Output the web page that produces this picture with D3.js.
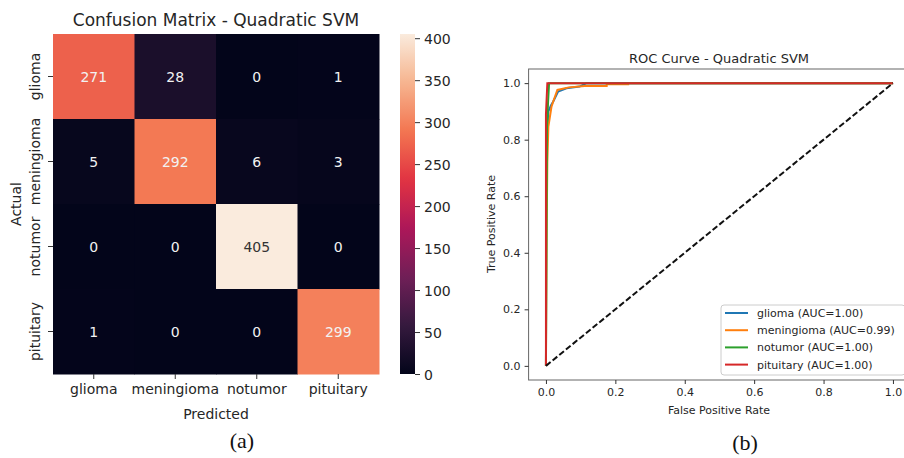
<!DOCTYPE html>
<html>
<head>
<meta charset="utf-8">
<script src="https://cdn.jsdelivr.net/npm/d3@7"></script>
<style>
    html, body { margin: 0; padding: 0; background: #fff; }
    svg { display: block; font-family: "DejaVu Sans", sans-serif; }
</style>
</head>
<body>
<svg id="chart" width="904" height="458"></svg>
<script>
// ---- data ----
const classes = ['glioma', 'meningioma', 'notumor', 'pituitary'];
const confusion = [
    [271, 28, 0, 1],
    [5, 292, 6, 3],
    [0, 0, 405, 0],
    [1, 0, 0, 299]
];
const colorbarTicks = [0, 50, 100, 150, 200, 250, 300, 350, 400];

// ROC points
const gliomaFpr = [0, 0.001, 0.003, 0.007, 0.014, 0.021, 0.035, 0.059, 0.097, 0.117, 1];
const gliomaTpr = [0, 0.55, 0.80, 0.90, 0.92, 0.935, 0.97, 0.982, 0.988, 1.0, 1.0];
const meningiomaFpr = [0, 0.002, 0.004, 0.007, 0.016, 0.021, 0.033, 0.066, 0.112, 0.175, 0.175, 0.237, 0.237, 1];
const meningiomaTpr = [0, 0.48, 0.72, 0.846, 0.917, 0.935, 0.976, 0.985, 0.99, 0.99, 0.996, 0.996, 1.0, 1.0];
const notumorFpr = [0, 0.003, 0.006, 0.009, 1];
const notumorTpr = [0, 0.84, 0.93, 1.0, 1.0];
const pituitaryFpr = [0, 0, 0.004, 1];
const pituitaryTpr = [0, 0.89, 1.0, 1.0];
const aucLabels = ['1.00', '0.99', '1.00', '1.00'];
const rocTicks = [0, 0.2, 0.4, 0.6, 0.8, 1.0];

const textColor = '#262626';
const svg = d3.select('#chart');

// seaborn "rocket" colormap, approximated by stops
const rocketStops = [0, 1/7, 2/7, 3/7, 4/7, 5/7, 6/7, 1];
const rocketColors = ['#03051a', '#35193e', '#701f57', '#ad1759', '#e13342', '#f37651', '#f6b48f', '#faebdd'];

function styleAxis(g, size) {
    g.select('.domain').remove();
    g.selectAll('.tick line').attr('stroke', '#333').attr('stroke-width', 1);
    g.selectAll('.tick text').attr('fill', textColor).attr('font-size', size + 'px')
        .attr('font-family', '"DejaVu Sans", sans-serif');
}

// ================= (a) confusion matrix =================
const vmax = d3.max(confusion.flat());
const color = d3.scaleLinear()
    .domain(rocketStops.map(s => s * vmax))
    .range(rocketColors)
    .interpolate(d3.interpolateRgb);

const hx = d3.scaleBand().domain(classes).range([53, 379]);
const hy = d3.scaleBand().domain(classes).range([34, 374]);

const cells = [];
confusion.forEach((row, i) => row.forEach((v, j) => cells.push({ actual: classes[i], pred: classes[j], v })));

const heat = svg.append('g');
heat.selectAll('rect')
    .data(cells)
    .enter()
    .append('rect')
    .attr('x', d => hx(d.pred))
    .attr('y', d => hy(d.actual))
    .attr('width', hx.bandwidth() + 0.5)
    .attr('height', hy.bandwidth() + 0.5)
    .attr('fill', d => color(d.v));

heat.selectAll('text')
    .data(cells)
    .enter()
    .append('text')
    .attr('x', d => hx(d.pred) + hx.bandwidth() / 2)
    .attr('y', d => hy(d.actual) + hy.bandwidth() / 2 + 5)
    .attr('text-anchor', 'middle')
    .attr('font-size', '14px')
    .attr('fill', d => {
        const c = d3.rgb(color(d.v));
        const lum = (0.2126 * Math.pow(c.r / 255, 2.2) + 0.7152 * Math.pow(c.g / 255, 2.2) + 0.0722 * Math.pow(c.b / 255, 2.2));
        return lum > 0.408 ? '#333' : '#f2f2f2';
    })
    .text(d => d.v);

// axes
svg.append('g')
    .attr('transform', 'translate(0,374)')
    .call(d3.axisBottom(hx).tickSize(5).tickPadding(5))
    .call(g => styleAxis(g, 14));

svg.append('g')
    .attr('transform', 'translate(53,0)')
    .call(d3.axisLeft(hy).tickSize(5))
    .call(g => styleAxis(g, 14))
    .call(g => g.selectAll('.tick text')
        .attr('transform', 'rotate(-90)')
        .attr('x', 0).attr('y', -13).attr('dy', 0)
        .attr('text-anchor', 'middle'));

svg.append('text')
    .attr('x', 216).attr('y', 26)
    .attr('text-anchor', 'middle').attr('font-size', '17px').attr('fill', textColor)
    .text('Confusion Matrix - Quadratic SVM');

svg.append('text')
    .attr('x', 216).attr('y', 419)
    .attr('text-anchor', 'middle').attr('font-size', '14px').attr('fill', textColor)
    .text('Predicted');

svg.append('text')
    .attr('transform', 'translate(20.5,204) rotate(-90)')
    .attr('text-anchor', 'middle').attr('font-size', '14px').attr('fill', textColor)
    .text('Actual');

// colorbar
const cy = d3.scaleLinear().domain([0, vmax]).range([374, 34]);
const grad = svg.append('defs').append('linearGradient')
    .attr('id', 'rocket').attr('x1', 0).attr('y1', 1).attr('x2', 0).attr('y2', 0);
grad.selectAll('stop')
    .data(d3.range(0, 1.0001, 0.02))
    .enter()
    .append('stop')
    .attr('offset', d => d)
    .attr('stop-color', d => color(d * vmax));

svg.append('rect')
    .attr('x', 400).attr('y', cy(vmax))
    .attr('width', 15).attr('height', cy(0) - cy(vmax))
    .attr('fill', 'url(#rocket)');

svg.append('g')
    .attr('transform', 'translate(415,0)')
    .call(d3.axisRight(cy).tickValues(colorbarTicks).tickSize(5).tickPadding(4))
    .call(g => styleAxis(g, 14))
    .call(g => g.selectAll('.tick text').attr('dy', '0.36em'));

// ================= (b) ROC curves =================
const rx = d3.scaleLinear().domain([-0.05, 1.05]).range([528.6, 910.3]);
const ry = d3.scaleLinear().domain([-0.05, 1.05]).range([380, 69]);

const rocColors = ['#1f77b4', '#ff7f0e', '#2ca02c', '#d62728'];
const rocSeries = [
    { name: classes[0], fpr: gliomaFpr, tpr: gliomaTpr },
    { name: classes[1], fpr: meningiomaFpr, tpr: meningiomaTpr },
    { name: classes[2], fpr: notumorFpr, tpr: notumorTpr },
    { name: classes[3], fpr: pituitaryFpr, tpr: pituitaryTpr }
];

const line = d3.line().x(d => rx(d[0])).y(d => ry(d[1]));

svg.append('g')
    .selectAll('path')
    .data(rocSeries)
    .enter()
    .append('path')
    .attr('d', d => line(d3.zip(d.fpr, d.tpr)))
    .attr('fill', 'none')
    .attr('stroke', (d, i) => rocColors[i])
    .attr('stroke-width', 2);

// chance line
svg.append('path')
    .attr('d', line([[0, 0], [1, 1]]))
    .attr('fill', 'none')
    .attr('stroke', '#111')
    .attr('stroke-width', 2)
    .attr('stroke-dasharray', '6,2.6');

// frame
svg.append('rect')
    .attr('x', rx(-0.05)).attr('y', ry(1.05))
    .attr('width', rx(1.05) - rx(-0.05)).attr('height', ry(-0.05) - ry(1.05))
    .attr('fill', 'none').attr('stroke', '#666').attr('stroke-width', 1);

svg.append('g')
    .attr('transform', `translate(0,${ry(-0.05)})`)
    .call(d3.axisBottom(rx).tickValues(rocTicks).tickFormat(d3.format('.1f')).tickSize(4).tickPadding(4))
    .call(g => styleAxis(g, 11));

svg.append('g')
    .attr('transform', `translate(${rx(-0.05)},0)`)
    .call(d3.axisLeft(ry).tickValues(rocTicks).tickFormat(d3.format('.1f')).tickSize(4).tickPadding(4))
    .call(g => styleAxis(g, 11));

svg.append('text')
    .attr('x', 719).attr('y', 63)
    .attr('text-anchor', 'middle').attr('font-size', '13px').attr('fill', textColor)
    .text('ROC Curve - Quadratic SVM');

svg.append('text')
    .attr('x', 719).attr('y', 414)
    .attr('text-anchor', 'middle').attr('font-size', '11px').attr('fill', textColor)
    .text('False Positive Rate');

svg.append('text')
    .attr('transform', 'translate(495,224) rotate(-90)')
    .attr('text-anchor', 'middle').attr('font-size', '11px').attr('fill', textColor)
    .text('True Positive Rate');

// legend
const legend = svg.append('g');
legend.append('rect')
    .attr('x', 721).attr('y', 305).attr('width', 184).attr('height', 70).attr('rx', 3)
    .attr('fill', '#fff').attr('fill-opacity', 0.8).attr('stroke', '#ccc');

const items = legend.selectAll('.item')
    .data(rocSeries)
    .enter()
    .append('g')
    .attr('transform', (d, i) => `translate(0,${313 + i * 17.2})`);
items.append('line')
    .attr('x1', 725).attr('x2', 748)
    .attr('stroke', (d, i) => rocColors[i]).attr('stroke-width', 2);
items.append('text')
    .attr('x', 757).attr('y', 4)
    .attr('font-size', '11px').attr('fill', textColor)
    .text((d, i) => `${d.name} (AUC=${aucLabels[i]})`);

// panel captions
svg.append('text')
    .attr('x', 242).attr('y', 448)
    .attr('text-anchor', 'middle').attr('font-size', '22px')
    .attr('font-family', '"Liberation Serif", serif').attr('fill', '#111')
    .text('(a)');

svg.append('text')
    .attr('x', 745).attr('y', 450)
    .attr('text-anchor', 'middle').attr('font-size', '22px')
    .attr('font-family', '"Liberation Serif", serif').attr('fill', '#111')
    .text('(b)');
</script>
</body>
</html>
